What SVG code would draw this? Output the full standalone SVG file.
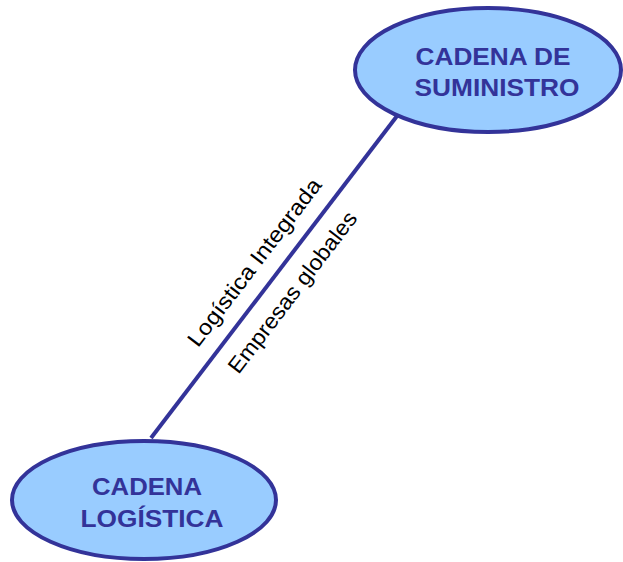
<svg xmlns="http://www.w3.org/2000/svg" width="623" height="562" viewBox="0 0 623 562">
<style>
.node{fill:#99CCFF;stroke:#333399;stroke-width:4}
.nt{font-family:"Liberation Sans",Arial,sans-serif;font-weight:bold;font-size:23px;fill:#333399;text-anchor:middle}
.lt{font-family:"Liberation Sans",Arial,sans-serif;font-size:22px;fill:#000;text-anchor:middle}
.edge{stroke:#333399;stroke-width:4;fill:none}
</style>
<rect width="623" height="562" fill="#fff"/>
<g id="connectors">
<line class="edge" x1="397" y1="116" x2="151" y2="438"/>
<text class="lt" transform="translate(254,262) rotate(-52.6)" y="8" textLength="205" lengthAdjust="spacingAndGlyphs">Logística Integrada</text>
<text class="lt" transform="translate(292,292) rotate(-52.6)" y="8" textLength="197" lengthAdjust="spacingAndGlyphs">Empresas globales</text>
</g>
<g id="cadena-suministro">
<ellipse class="node" cx="488" cy="70" rx="133" ry="62"/>
<text class="nt" x="493" y="65" textLength="155" lengthAdjust="spacingAndGlyphs">CADENA DE</text>
<text class="nt" x="497" y="96" textLength="165" lengthAdjust="spacingAndGlyphs">SUMINISTRO</text>
</g>
<g id="cadena-logistica">
<ellipse class="node" cx="144" cy="500" rx="132" ry="59"/>
<text class="nt" x="147" y="495" textLength="110" lengthAdjust="spacingAndGlyphs">CADENA</text>
<text class="nt" x="152" y="527" textLength="143" lengthAdjust="spacingAndGlyphs">LOGÍSTICA</text>
</g>
</svg>
